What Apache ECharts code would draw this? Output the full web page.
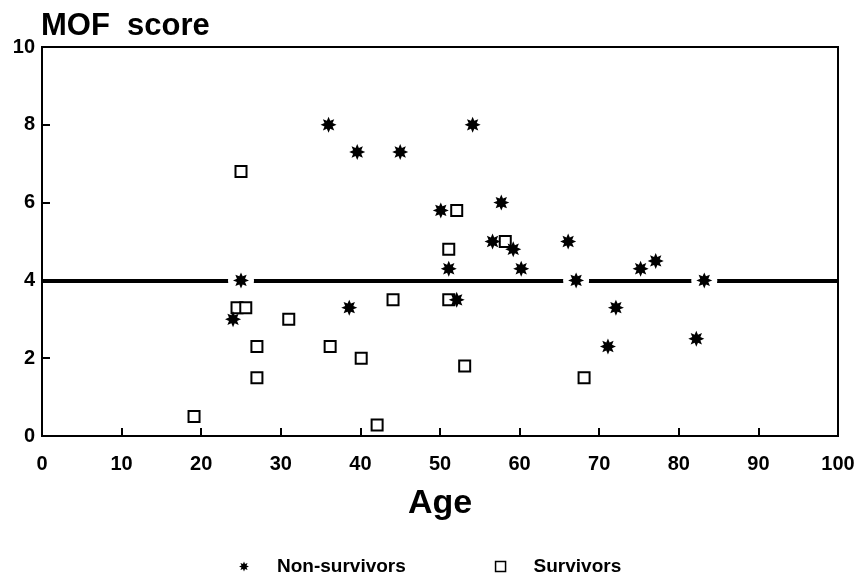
<!DOCTYPE html>
<html>
<head>
<meta charset="utf-8">
<script src="https://cdn.jsdelivr.net/npm/echarts@6/dist/echarts.min.js"></script>
<style>html,body{margin:0;padding:0;background:#fff}#c{width:858px;height:574px}</style>
</head>
<body>
<div id="c"></div>
<script>
// ---- data ----
var nonSurvivorAge   = [24, 25, 36, 38.6, 39.6, 45, 50.1, 51.1, 52.1, 54.1, 56.6, 57.7, 59.2, 60.2, 66.1, 67.1, 71.1, 72.1, 75.2, 77.1, 82.2, 83.2];
var nonSurvivorScore = [3.0, 4.0, 8.0, 3.3, 7.3, 7.3, 5.8, 4.3, 3.5, 8.0, 5.0, 6.0, 4.8, 4.3, 5.0, 4.0, 2.3, 3.3, 4.3, 4.5, 2.5, 4.0];
var survivorAge   = [19.1, 24.5, 25.0, 25.6, 27.0, 27.0, 31.0, 36.2, 40.1, 42.1, 44.1, 51.1, 51.1, 52.1, 53.1, 58.2, 68.1];
var survivorScore = [0.5, 3.3, 6.8, 3.3, 2.3, 1.5, 3.0, 2.3, 2.0, 0.28, 3.5, 4.8, 3.5, 5.8, 1.8, 5.0, 1.5];
var thresholdScore = 4;
var xTicks = [0, 10, 20, 30, 40, 50, 60, 70, 80, 90, 100];
var yTicks = [0, 2, 4, 6, 8, 10];

function zip(a, b) { return a.map(function (v, i) { return [v, b[i]]; }); }
var nonSurv = zip(nonSurvivorAge, nonSurvivorScore);
var surv = zip(survivorAge, survivorScore);
var onLine = nonSurv.filter(function (p) { return p[1] === thresholdScore; });

function starPath(n, rIn) {
  var d = '';
  for (var k = 0; k < 2 * n; k++) {
    var a = Math.PI * k / n - Math.PI / 2;
    var r = (k % 2) ? rIn : 1;
    d += (k ? 'L' : 'M') + (r * Math.cos(a)).toFixed(3) + ' ' + (r * Math.sin(a)).toFixed(3) + ' ';
  }
  return 'path://' + d + 'Z';
}
var asterisk = starPath(8, 0.55);
var square = 'path://M0 0L10 0L10 10L0 10Z';
var FONT = '"Liberation Sans", Arial, sans-serif';

var chart = echarts.init(document.getElementById('c'), null, { renderer: 'canvas' });
chart.setOption({
  animation: false,
  backgroundColor: '#fff',
  textStyle: { fontFamily: FONT },
  title: {
    text: 'MOF  score', left: 41, top: 11, padding: 0,
    textStyle: { fontSize: 31, fontWeight: 'bold', color: '#000', fontFamily: FONT }
  },
  grid: { left: 42, right: 20, top: 47, bottom: 138, show: true, borderColor: '#000', borderWidth: 2, backgroundColor: 'transparent' },
  legend: {
    left: 234, top: 552, itemWidth: 56, itemHeight: 10, itemGap: 89,
    textStyle: { fontSize: 19, fontWeight: 'bold', color: '#000', fontFamily: FONT },
    data: [
      { name: 'Non-survivors', icon: asterisk },
      { name: 'Survivors', icon: square, itemStyle: { color: '#fff', borderColor: '#000', borderWidth: 1.5 } }
    ]
  },
  xAxis: {
    type: 'value', min: 0, max: 100, interval: 10,
    name: 'Age', nameLocation: 'middle', nameGap: 51,
    nameTextStyle: { fontSize: 34, fontWeight: 'bold', color: '#000', fontFamily: FONT },
    axisLine: { show: true, lineStyle: { color: '#000', width: 2 } },
    axisTick: { show: true, inside: true, length: 8, lineStyle: { color: '#000', width: 2 } },
    axisLabel: { fontSize: 20, fontWeight: 'bold', color: '#000', margin: 18, fontFamily: FONT },
    splitLine: { show: false }
  },
  yAxis: {
    type: 'value', min: 0, max: 10, interval: 2,
    axisLine: { show: true, lineStyle: { color: '#000', width: 2 } },
    axisTick: { show: true, inside: true, length: 8, lineStyle: { color: '#000', width: 2 } },
    axisLabel: { fontSize: 20, fontWeight: 'bold', color: '#000', margin: 7, fontFamily: FONT },
    splitLine: { show: false }
  },
  series: [
    {
      name: 'ref', type: 'scatter', data: [], z: 1, silent: true,
      markLine: {
        z: 1, silent: true, symbol: 'none', label: { show: false },
        lineStyle: { color: '#000', width: 4, type: 'solid' },
        data: [{ yAxis: thresholdScore }]
      }
    },
    {
      name: 'gap', type: 'scatter', data: onLine, z: 6, silent: true,
      symbol: 'circle', symbolSize: 26, itemStyle: { color: '#fff', opacity: 1 }
    },
    {
      name: 'Survivors', type: 'scatter', data: surv, z: 7,
      symbol: 'rect', symbolSize: 11,
      itemStyle: { color: '#fff', borderColor: '#000', borderWidth: 2, opacity: 1 }
    },
    {
      name: 'Non-survivors', type: 'scatter', data: nonSurv, z: 8,
      symbol: asterisk, symbolSize: 16,
      itemStyle: { color: '#000', opacity: 1 }
    }
  ]
});
</script>
</body>
</html>
